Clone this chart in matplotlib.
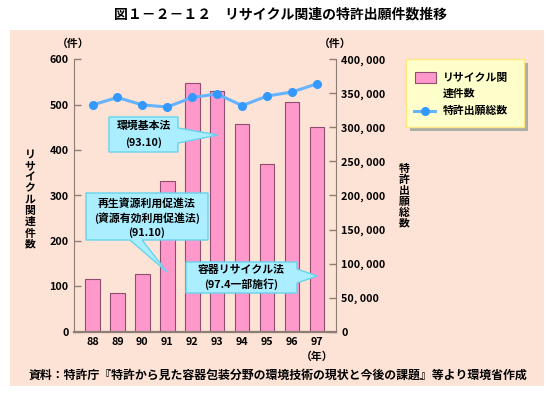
import matplotlib
matplotlib.use("Agg")
import matplotlib.pyplot as plt
from matplotlib.patches import Rectangle, Polygon
from matplotlib.lines import Line2D
from matplotlib.ticker import FuncFormatter

plt.rcParams['font.family'] = ['Noto Sans CJK JP', 'DejaVu Sans']
plt.rcParams['font.weight'] = 'bold'

# データ
years = ['88', '89', '90', '91', '92', '93', '94', '95', '96', '97']
recycle_counts = [117, 86, 128, 331, 548, 530, 458, 370, 506, 451]
patent_totals = [333000, 344000, 333000, 330000, 344000, 349000, 332000, 346000, 352000, 364000]

title = "図１－２－１２　リサイクル関連の特許出願件数推移"
source = "資料：特許庁『特許から見た容器包装分野の環境技術の現状と今後の課題』等より環境省作成"

W, H = 554, 397
BG = '#fde2d6'
BAR = '#ff99cc'
BAR_EDGE = '#8e4f6e'
LINE = '#66b3ff'
DOT = '#3399ff'
CALLOUT = '#aaeeff'
CALLOUT_EDGE = '#66d4ee'
SPINE = '#8c7d75'
FS = 7.8


def px(x, y):
    # 参照画像のピクセル座標 -> figure座標
    return (x / W, 1 - y / H)


fig = plt.figure(figsize=(W / 100, H / 100), dpi=100)
fig.patch.set_facecolor('white')

# 背景パネル
x0, y0 = px(10, 386)
fig.add_artist(Rectangle((x0, y0), 534 / W, 356 / H, transform=fig.transFigure,
                         facecolor=BG, edgecolor='none', zorder=-1))

l, b = px(74.3, 331.7)
r, t = px(335.7, 59.3)
ax = fig.add_axes([l, b, r - l, t - b])
ax.patch.set_alpha(0)

x = list(range(len(years)))
ax.bar(x, recycle_counts, width=0.58, color=BAR, edgecolor=BAR_EDGE, linewidth=0.8, zorder=2)
ax.set_xlim(-0.73, 9.75)
ax.set_ylim(0, 600)
ax.set_yticks(range(0, 601, 100))
ax.set_xticks(x)
ax.set_xticklabels(years)
ax.tick_params(axis='x', length=0, pad=4, labelsize=FS)
ax.tick_params(axis='y', direction='in', length=5, width=1, color=SPINE, pad=4, labelsize=FS)
for s in ['top', 'right']:
    ax.spines[s].set_visible(False)
ax.spines['left'].set_color(SPINE)
ax.spines['bottom'].set_color(SPINE)
ax.spines['bottom'].set_linewidth(1.6)

ax2 = ax.twinx()
ax2.plot(x, patent_totals, color=LINE, linewidth=2.2, marker='o', markersize=5.5,
         markerfacecolor=DOT, markeredgecolor=DOT, zorder=3)
ax2.set_ylim(0, 400000)
ax2.set_yticks(range(0, 400001, 50000))
ax2.yaxis.set_major_formatter(FuncFormatter(lambda v, p: f"{int(v):,}".replace(",", ", ")))
ax2.tick_params(axis='y', direction='in', length=5, width=1, color=SPINE, pad=4, labelsize=FS)
for s in ['top', 'left', 'bottom']:
    ax2.spines[s].set_visible(False)
ax2.spines['right'].set_color(SPINE)

# 単位・軸ラベル
fig.text(*px(73, 44), "（件）", ha='center', va='center', fontsize=FS)
fig.text(*px(335, 44), "（件）", ha='center', va='center', fontsize=FS)
fig.text(*px(317, 357), "（年）", ha='center', va='center', fontsize=FS)
fig.text(*px(30, 200), "\n".join("リサイクル関連件数"), ha='center', va='center',
         fontsize=FS, linespacing=1.15)
fig.text(*px(404, 196), "\n".join("特許出願総数"), ha='center', va='center',
         fontsize=FS, linespacing=1.1)

fig.text(*px(280, 15), title, ha='center', va='center', fontsize=10, fontweight='bold')
fig.text(*px(278, 375), source, ha='center', va='center', fontsize=8.6)

# 凡例
sx, sy = px(410, 131)
fig.add_artist(Rectangle((sx, sy), 118 / W, 68 / H, transform=fig.transFigure,
                         facecolor='#a9aea6', edgecolor='none', zorder=4))
lx, ly = px(406, 127)
fig.add_artist(Rectangle((lx, ly), 118 / W, 68 / H, transform=fig.transFigure,
                         facecolor='#ffffcc', edgecolor='#ffe680', linewidth=1, zorder=5))
kx, ky = px(415, 83)
fig.add_artist(Rectangle((kx, ky), 21 / W, 11 / H, transform=fig.transFigure,
                         facecolor=BAR, edgecolor=BAR_EDGE, linewidth=0.8, zorder=6))
fig.text(*px(443, 78), "リサイクル関", ha='left', va='center', fontsize=FS, zorder=6)
fig.text(*px(443, 94), "連件数", ha='left', va='center', fontsize=FS, zorder=6)
a, c = px(414, 111), px(435, 111)
fig.add_artist(Line2D([a[0], c[0]], [a[1], c[1]], transform=fig.transFigure,
                      color=LINE, linewidth=2.2, zorder=6))
fig.add_artist(Line2D([px(424.5, 111)[0]], [px(424.5, 111)[1]], transform=fig.transFigure,
                      marker='o', markersize=5.5, color=DOT, zorder=7))
fig.text(*px(443, 111), "特許出願総数", ha='left', va='center', fontsize=FS, zorder=6)


def callout(points, lines, centers):
    fig.add_artist(Polygon([px(*p) for p in points], closed=True, transform=fig.transFigure,
                           facecolor=CALLOUT, edgecolor=CALLOUT_EDGE, linewidth=1, zorder=8))
    for txt, (cx, cy) in zip(lines, centers):
        fig.text(*px(cx, cy), txt, ha='center', va='center', fontsize=FS, zorder=9)


callout([(109, 117), (178, 117), (178, 128), (218, 135), (178, 143), (178, 152), (109, 152)],
        ["環境基本法", "(93.10)"], [(143.5, 126), (143.5, 143)])
callout([(86, 193), (208, 193), (208, 240), (142, 240), (167, 272), (130, 240), (86, 240)],
        ["再生資源利用促進法", "(資源有効利用促進法)", "(91.10)"],
        [(147, 203), (147, 218), (147, 233)])
callout([(186, 262), (297, 262), (297, 269), (317, 276), (297, 283), (297, 293), (186, 293)],
        ["容器リサイクル法", "(97.4一部施行)"], [(241.5, 269.5), (241.5, 284)])

fig.savefig("out.png", dpi=100, facecolor=fig.get_facecolor())
